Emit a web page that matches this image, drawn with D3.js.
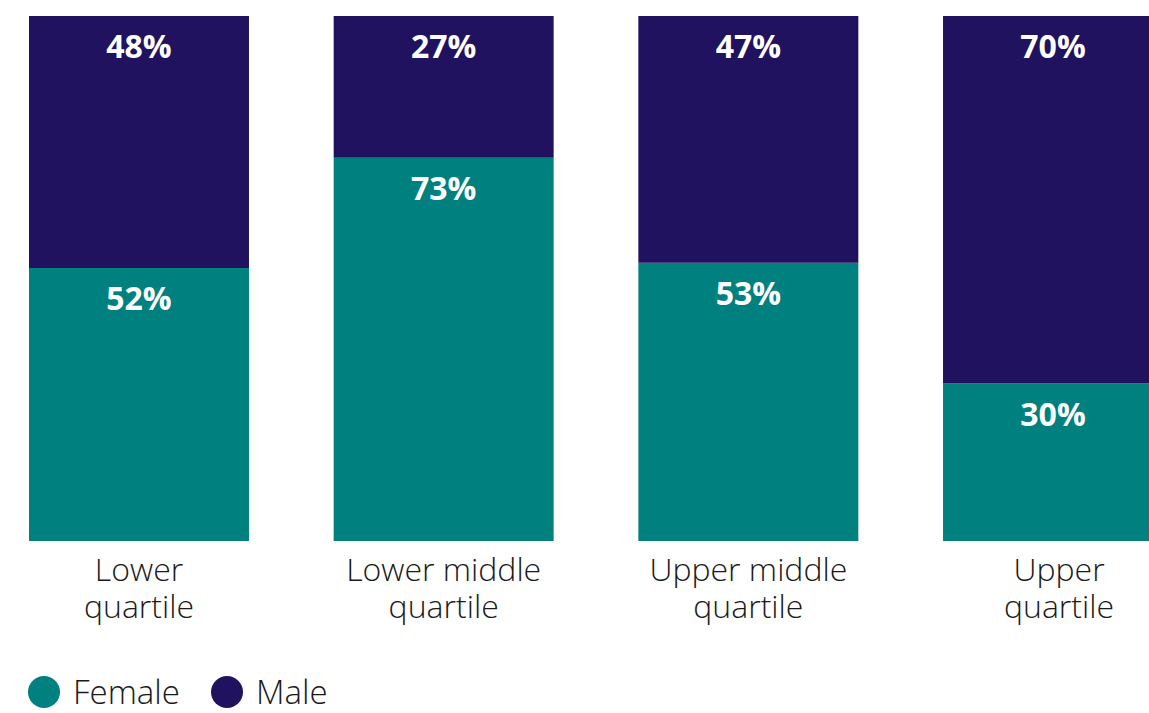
<!DOCTYPE html>
<html>
<head>
<meta charset="utf-8">
<script src="https://cdn.jsdelivr.net/npm/d3@7.9.0/dist/d3.min.js"></script>
<style>
  body { margin: 0; background: #fff; overflow: hidden; }
  svg { display: block; font-family: "Open Sans", "Noto Sans", sans-serif; }
  .cat { font-size: 32px; font-weight: 300; fill: #1a1a1a; }
  .val { font-size: 32px; font-weight: 700; fill: #fff; }
  .legend { font-size: 33px; font-weight: 300; fill: #1a1a1a; }
</style>
</head>
<body>
<div id="chart"></div>
<script>
const categories = [['Lower', 'quartile'], ['Lower middle', 'quartile'], ['Upper middle', 'quartile'], ['Upper', 'quartile']];
const female = [52, 73, 53, 30];
const male = [48, 27, 47, 70];
const seriesNames = ['Female', 'Male'];
const colors = { Female: '#00807f', Male: '#21125f' };

const width = 1149;
const height = 713;

const svg = d3.select('#chart')
  .append('svg')
  .attr('width', width)
  .attr('height', height);

const rows = categories.map((c, i) => ({ key: i, Female: female[i], Male: male[i] }));
const stacked = d3.stack().keys(seriesNames)(rows);

// bars 220px wide, 304.7px apart; the last one runs past the right edge
const x = d3.scaleBand()
  .domain(d3.range(categories.length))
  .range([29, 1163])
  .paddingInner(84.7 / 304.7)
  .paddingOuter(0);

const y = d3.scaleLinear()
  .domain([0, 100])
  .range([541, 16]);

const layers = svg.append('g')
  .selectAll('g')
  .data(stacked)
  .join('g')
  .attr('fill', d => colors[d.key]);

layers.selectAll('rect')
  .data(d => d)
  .join('rect')
  .attr('x', d => x(d.data.key))
  .attr('y', d => y(d[1]))
  .attr('width', x.bandwidth())
  .attr('height', d => y(d[0]) - y(d[1]));

// value labels near top of each segment
layers.selectAll('text')
  .data(d => d)
  .join('text')
  .attr('class', 'val')
  .attr('x', d => x(d.data.key) + x.bandwidth() / 2)
  .attr('y', d => y(d[1]) + 42)
  .attr('text-anchor', 'middle')
  .text(d => (d[1] - d[0]) + '%');

// category labels (last one sits a little right, as the bar is cut off)
const labelShift = [0, 0, 0, 6];
const cats = svg.append('g')
  .selectAll('text')
  .data(categories)
  .join('text')
  .attr('class', 'cat')
  .attr('text-anchor', 'middle')
  .attr('transform', (d, i) => `translate(${x(i) + x.bandwidth() / 2 + labelShift[i]}, 581)`);

cats.selectAll('tspan')
  .data(d => d)
  .join('tspan')
  .attr('x', 0)
  .attr('dy', (d, i) => i === 0 ? 0 : 37)
  .text(d => d);

// legend
const legendX = [44, 227];
const legend = svg.append('g')
  .selectAll('g')
  .data(seriesNames)
  .join('g')
  .attr('transform', (d, i) => `translate(${legendX[i]}, 692)`);

legend.append('circle')
  .attr('r', 16)
  .attr('fill', d => colors[d]);

legend.append('text')
  .attr('class', 'legend')
  .attr('x', 29)
  .attr('y', 12)
  .text(d => d);
</script>
</body>
</html>
